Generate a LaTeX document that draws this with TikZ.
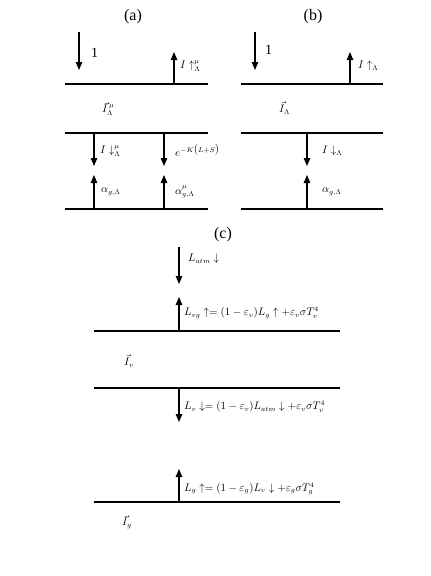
\documentclass[tikz,border=0pt]{standalone}
\usepackage{fontspec}
\setmainfont{Liberation Serif}
\usetikzlibrary{arrows.meta}
\begin{document}
\begin{tikzpicture}[x=1pt,y=-1pt,
  layer/.style={line width=2.6pt},
  arr/.style={line width=1.2pt,-{Triangle[length=8pt,width=6.5pt]}},
  lab/.style={anchor=west,inner sep=0pt,font=\fontsize{10.5}{12}\selectfont},
  one/.style={anchor=west,inner sep=0pt,font=\fontsize{14}{16}\selectfont},
  ttl/.style={inner sep=0pt,font=\fontsize{16}{18}\selectfont}]
\useasboundingbox (0,0) rectangle (431,576);
% ---------- panel (a)
\node[ttl] (ta) at (133,17) {(a)};
\coordinate (aL1) at (65,84);  \coordinate (aR1) at (208,84);
\coordinate (aL2) at (65,133); \coordinate (aR2) at (208,133);
\coordinate (aL3) at (65,209); \coordinate (aR3) at (208,209);
\draw[layer] (aL1) -- (aR1);
\draw[layer] (aL2) -- (aR2);
\draw[layer] (aL3) -- (aR3);
\coordinate (a1s) at (79,32); \coordinate (a1e) at (79,70);
\draw[arr] (a1s) -- (a1e);
\node[one] (a1l) at (91,53) {1};
\coordinate (aus) at (174,84); \coordinate (aue) at (174,52);
\draw[arr] (aus) -- (aue);
\node[lab] (aul) at (180,66) {$I\uparrow^{\mu}_{\Lambda}$};
\node[lab] (aIl) at (102,109) {$\vec{I}^{\,\mu}_{\Lambda}$};
\coordinate (ad1s) at (94,133); \coordinate (ad1e) at (94,166);
\draw[arr] (ad1s) -- (ad1e);
\node[lab] (ad1l) at (100,151) {$I\downarrow^{\mu}_{\Lambda}$};
\coordinate (ad2s) at (164,133); \coordinate (ad2e) at (164,166);
\draw[arr] (ad2s) -- (ad2e);
\node[lab] (ad2l) at (175,150) {$e^{-K\bigl(L+S\bigr)}$};
\coordinate (ag1s) at (94,209); \coordinate (ag1e) at (94,175);
\draw[arr] (ag1s) -- (ag1e);
\node[lab] (ag1l) at (101,192) {$\alpha_{g,\Lambda}$};
\coordinate (ag2s) at (164,209); \coordinate (ag2e) at (164,175);
\draw[arr] (ag2s) -- (ag2e);
\node[lab] (ag2l) at (175,192) {$\alpha^{\mu}_{g,\Lambda}$};
% ---------- panel (b)
\node[ttl] (tb) at (313,17) {(b)};
\coordinate (bL1) at (241,84);  \coordinate (bR1) at (383,84);
\coordinate (bL2) at (241,133); \coordinate (bR2) at (383,133);
\coordinate (bL3) at (241,209); \coordinate (bR3) at (383,209);
\draw[layer] (bL1) -- (bR1);
\draw[layer] (bL2) -- (bR2);
\draw[layer] (bL3) -- (bR3);
\coordinate (b1s) at (255,32); \coordinate (b1e) at (255,70);
\draw[arr] (b1s) -- (b1e);
\node[one] (b1l) at (265,50) {1};
\coordinate (bus) at (350,84); \coordinate (bue) at (350,52);
\draw[arr] (bus) -- (bue);
\node[lab] (bul) at (358,66) {$I\uparrow_{\Lambda}$};
\node[lab] (bIl) at (279,108) {$\vec{I}_{\Lambda}$};
\coordinate (bds) at (307,133); \coordinate (bde) at (307,166);
\draw[arr] (bds) -- (bde);
\node[lab] (bdl) at (322,151) {$I\downarrow_{\Lambda}$};
\coordinate (bgs) at (307,209); \coordinate (bge) at (307,175);
\draw[arr] (bgs) -- (bge);
\node[lab] (bgl) at (322,192) {$\alpha_{g,\Lambda}$};
% ---------- panel (c)
\node[ttl] (tc) at (223,235) {(c)};
\coordinate (cL1) at (94,331);  \coordinate (cR1) at (340,331);
\coordinate (cL2) at (94,388);  \coordinate (cR2) at (340,388);
\coordinate (cL3) at (94,502);  \coordinate (cR3) at (340,502);
\draw[layer] (cL1) -- (cR1);
\draw[layer] (cL2) -- (cR2);
\draw[layer] (cL3) -- (cR3);
\coordinate (c1s) at (179,247); \coordinate (c1e) at (179,284);
\draw[arr] (c1s) -- (c1e);
\node[lab] (c1l) at (188,259) {$L_{atm}\downarrow$};
\coordinate (cus) at (179,331); \coordinate (cue) at (179,297);
\draw[arr] (cus) -- (cue);
\node[lab] (cul) at (184,313) {$L_{vg}\uparrow=\bigl(1-\varepsilon_v\bigr)L_g\uparrow+\varepsilon_v\sigma T_v^4$};
\node[lab] (cIv) at (124,361) {$\vec{I}_{v}$};
\coordinate (cds) at (179,388); \coordinate (cde) at (179,422);
\draw[arr] (cds) -- (cde);
\node[lab] (cdl) at (184,407) {$L_{v}\downarrow=\bigl(1-\varepsilon_v\bigr)L_{atm}\downarrow+\varepsilon_v\sigma T_v^4$};
\coordinate (cgs) at (179,502); \coordinate (cge) at (179,469);
\draw[arr] (cgs) -- (cge);
\node[lab] (cgl) at (184,489) {$L_{g}\uparrow=\bigl(1-\varepsilon_g\bigr)L_v\downarrow+\varepsilon_g\sigma T_g^4$};
\node[lab] (cIg) at (122,522) {$\vec{I}_{g}$};
\end{tikzpicture}
\end{document}
